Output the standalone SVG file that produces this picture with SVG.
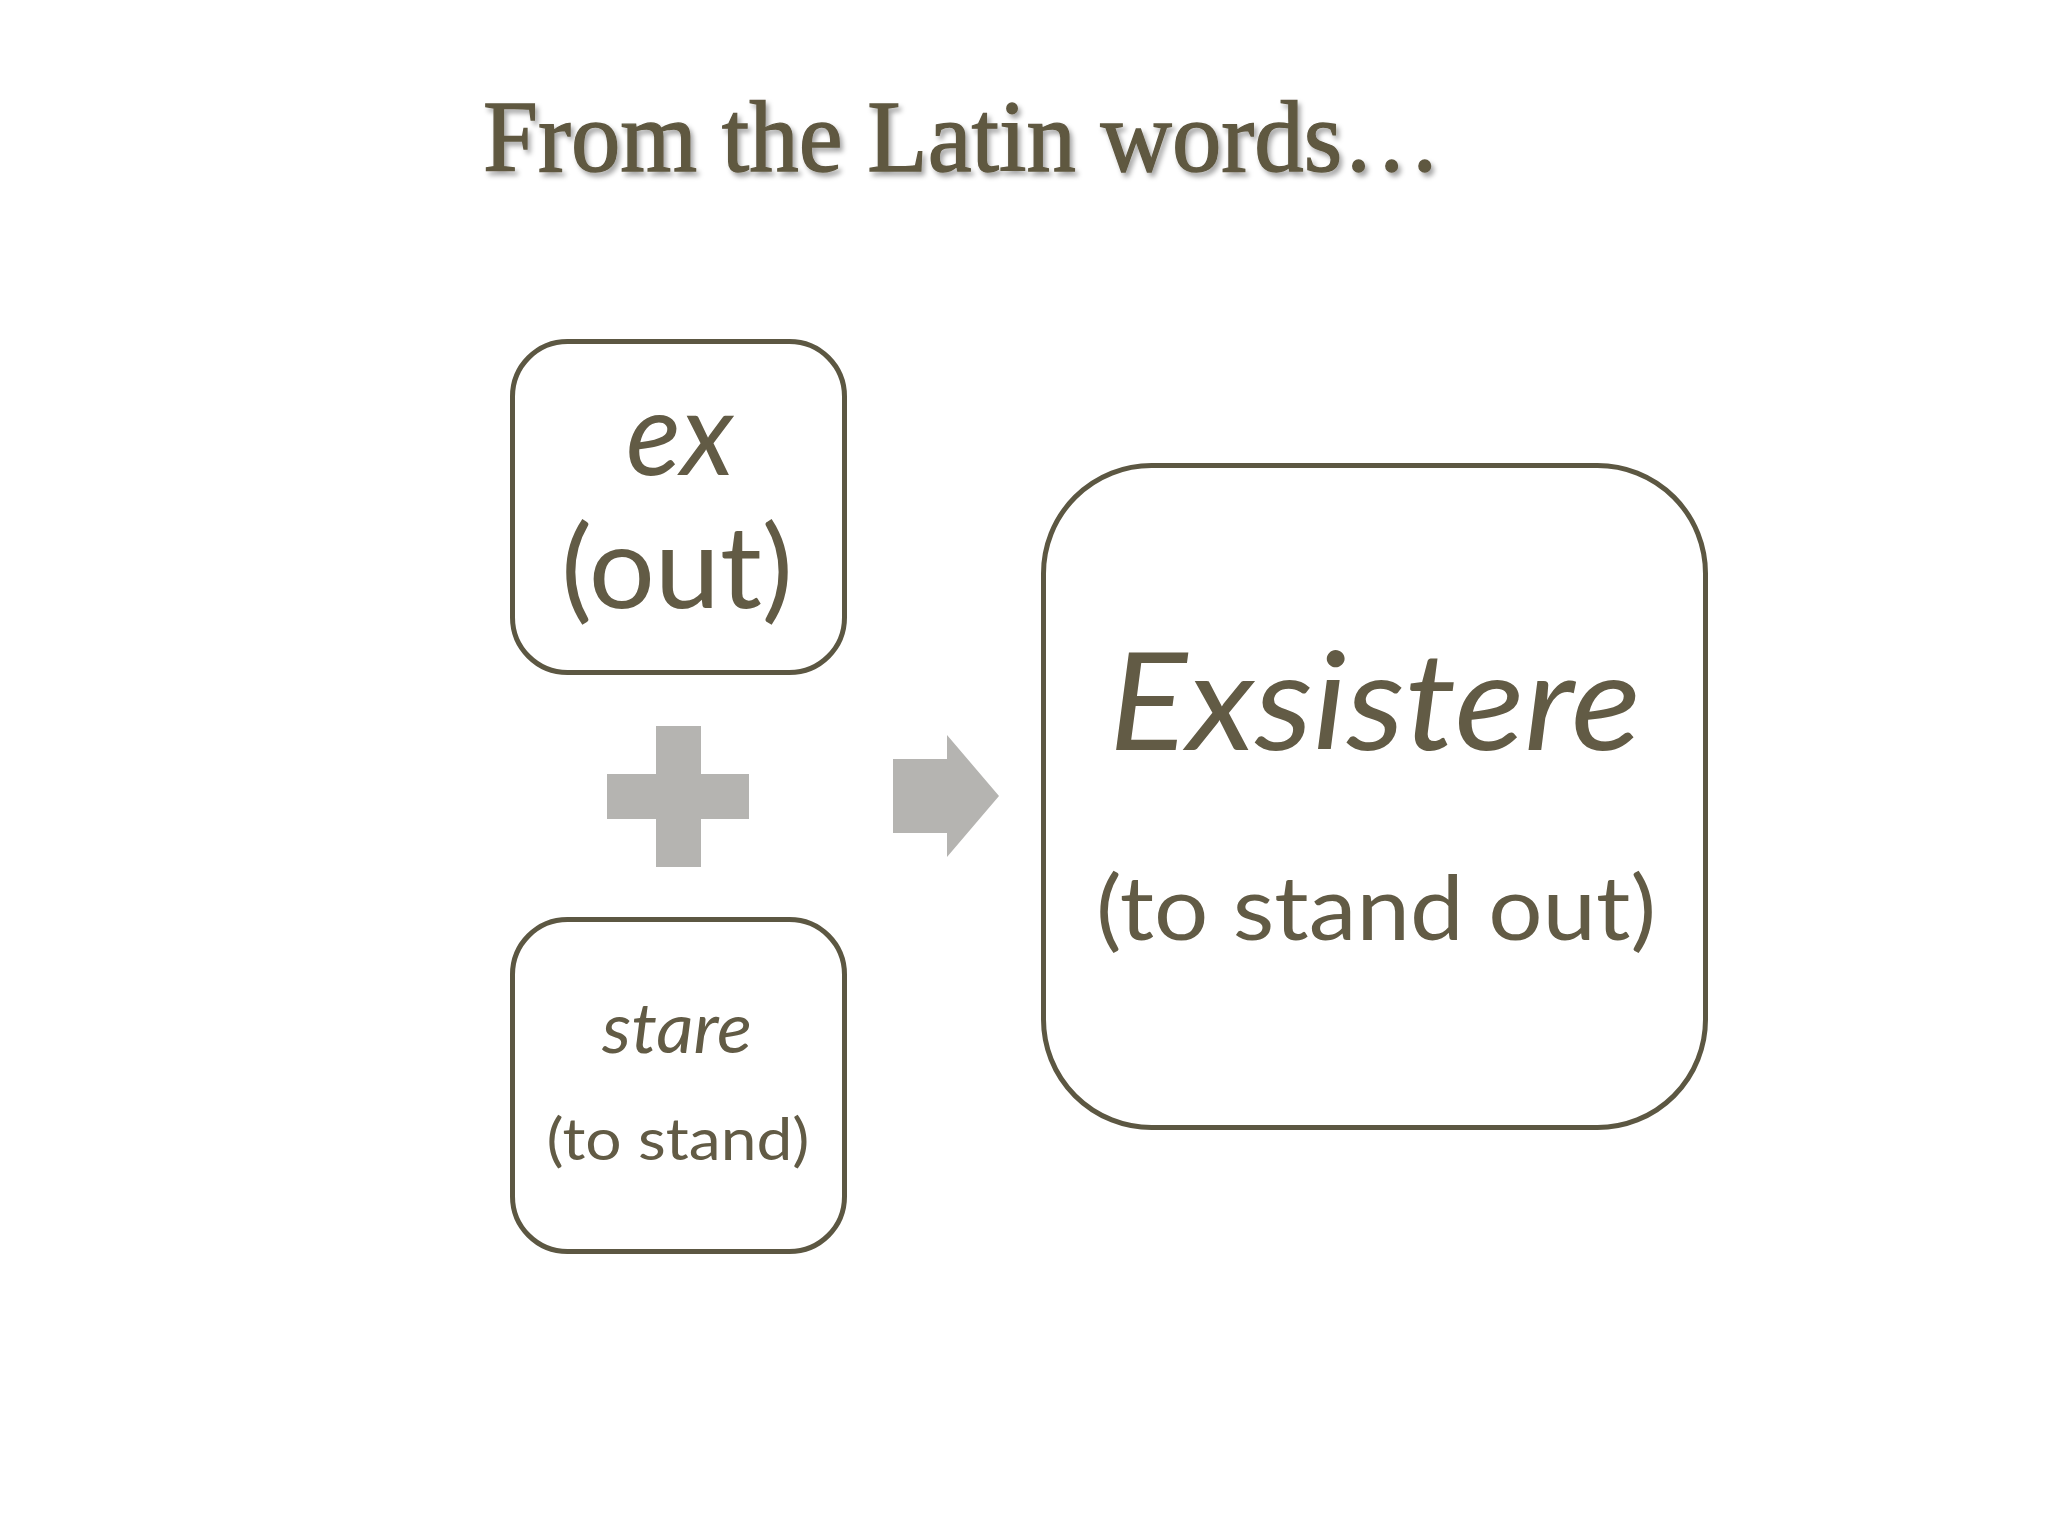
<svg xmlns="http://www.w3.org/2000/svg" width="2048" height="1536" viewBox="0 0 2048 1536">
  <defs>
    <filter id="shadow" x="-5%" y="-20%" width="110%" height="150%">
      <feDropShadow dx="3" dy="4" stdDeviation="2.5" flood-color="#000000" flood-opacity="0.35"/>
    </filter>
  </defs>
  <style>
    .box { fill: #ffffff; stroke: #5c5742; stroke-width: 5; }
    .txt { fill: #625b45; font-family: Lato, "Open Sans", "Noto Sans", sans-serif; text-anchor: middle; }
    .it { font-style: italic; }
    .title { fill: #5f5841; stroke: #5f5841; stroke-width: 1.4; font-family: "Liberation Serif", "Times New Roman", serif; font-size: 102px; }
    .sym { fill: #b5b4b1; }
  </style>
  <rect width="2048" height="1536" fill="#ffffff"/>

  <g id="title">
    <text class="title" x="483" y="171" textLength="958" lengthAdjust="spacingAndGlyphs" filter="url(#shadow)">From the Latin words…</text>
  </g>

  <g id="node-ex">
    <rect class="box" x="512.5" y="341.5" width="332" height="331" rx="55" ry="55"/>
    <text class="txt it" x="680" y="475" font-size="117" textLength="108" lengthAdjust="spacingAndGlyphs">ex</text>
    <text class="txt" x="677" y="608" font-size="114" textLength="232" lengthAdjust="spacingAndGlyphs">(out)</text>
  </g>

  <g id="node-stare">
    <rect class="box" x="512.5" y="919.5" width="332" height="332" rx="55" ry="55"/>
    <text class="txt it" x="677" y="1053" font-size="70" textLength="150" lengthAdjust="spacingAndGlyphs">stare</text>
    <text class="txt" x="678" y="1160" font-size="58" textLength="263" lengthAdjust="spacingAndGlyphs">(to stand)</text>
  </g>

  <g id="node-exsistere">
    <rect class="box" x="1043.5" y="465.5" width="662" height="662" rx="108" ry="108"/>
    <text class="txt it" x="1375" y="750" font-size="136" textLength="532" lengthAdjust="spacingAndGlyphs">Exsistere</text>
    <text class="txt" x="1376" y="940" font-size="90" textLength="560" lengthAdjust="spacingAndGlyphs">(to stand out)</text>
  </g>

  <g id="connectors">
    <path id="plus" class="sym" d="M656,726 H701 V774 H749 V819 H701 V867 H656 V819 H607 V774 H656 Z"/>
    <path id="arrow" class="sym" d="M893,759 H947 V735 L999,796 L947,857 V833 H893 Z"/>
  </g>
</svg>
